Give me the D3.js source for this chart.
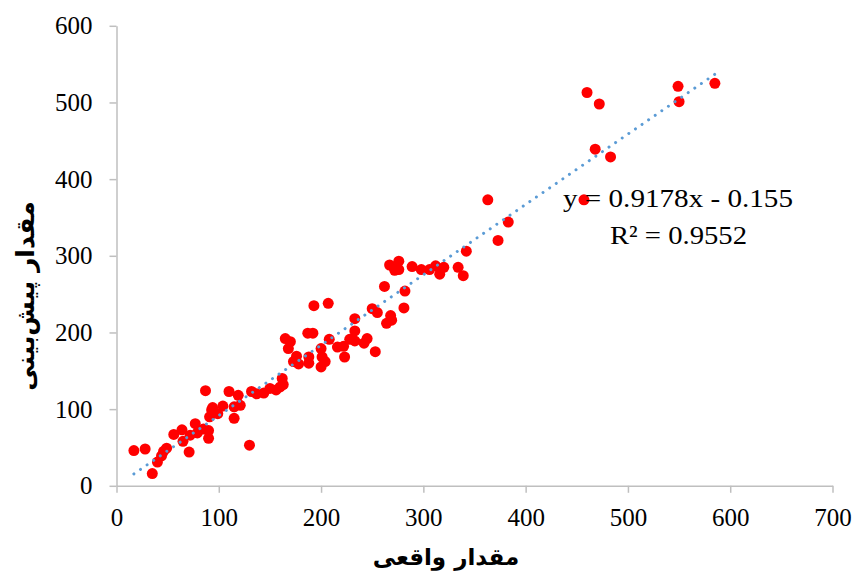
<!DOCTYPE html>
<html>
<head>
<meta charset="utf-8">
<script src="https://cdn.jsdelivr.net/npm/d3@7"></script>
<style>
	body { margin: 0; background: #fff; }
	svg { display: block; }
</style>
</head>
<body>
<div id="chart"></div>
<script>
// observed (actual) values
const actualValues = [
	585, 549, 550, 460, 472, 468, 483, 457, 363, 383,
	373, 342, 339, 334, 316, 320, 312, 306, 298, 289,
	276, 267, 272, 276, 282, 281, 262, 268, 269, 264,
	250, 255, 253, 245, 242, 233, 233, 233, 228, 223,
	222, 216, 208, 207, 193, 192, 187, 200, 201, 200,
	204, 188, 188, 178, 173, 176, 168, 170, 165, 162,
	163, 156, 150, 144, 137, 132, 130, 121, 119, 115,
	115, 110, 104, 99, 93, 94, 91, 87, 90, 90,
	85, 79, 77, 72, 71, 65, 64, 56, 49, 46,
	44, 40, 35, 28, 17, 160
];
// predicted values
const predictedValues = [
	525, 521, 501, 513, 498, 439, 429, 373, 373, 344,
	320, 306, 274, 285, 276, 285, 287, 282, 282, 286,
	293, 288, 281, 282, 254, 232, 260, 222, 216, 212,
	231, 226, 175, 192, 186, 218, 202, 189, 191, 168,
	182, 181, 191, 238, 235, 199, 199, 179, 168, 155,
	162, 168, 160, 159, 162, 169, 179, 188, 192, 140,
	132, 125, 127, 121, 120, 123, 53, 105, 118, 88,
	103, 123, 104, 94, 99, 102, 90, 124, 72, 62,
	74, 69, 81, 66, 44, 58, 73, 67, 49, 45,
	39, 31, 16, 48, 46, 129
];
const xTicks = [0, 100, 200, 300, 400, 500, 600, 700];
const yTicks = [0, 100, 200, 300, 400, 500, 600];
const slope = 0.9178;
const intercept = -0.155;
const equationLabel = "y = 0.9178x - 0.155";
const r2Label = "R² = 0.9552";
const xTitle = "مقدار واقعی";
const yTitle = "مقدار پیش‌بینی";

const W = 854;
const H = 575;
const axisColor = "#bfbfbf";
const tickFont = "'Liberation Serif', 'Times New Roman', serif";
const titleFont = "'DejaVu Sans', sans-serif";

const points = actualValues.map((v, i) => ({x: v, y: predictedValues[i]}));

/* eslint-disable indent */
const svg = d3.select("#chart")
	.append("svg")
		.attr("width", W)
		.attr("height", H);

const x = d3.scaleLinear()
	.domain([0, 700])
	.range([116.5, 832.5]);
const y = d3.scaleLinear()
	.domain([0, 600])
	.range([485.8, 25.8]);

// X axis
const gx = svg.append("g")
		.attr("transform", `translate(0,${y(0)})`)
		.call(d3.axisBottom(x).tickValues(xTicks).tickSize(7).tickSizeOuter(0).tickPadding(15));
// Y axis
const gy = svg.append("g")
		.attr("transform", `translate(${x(0)},0)`)
		.call(d3.axisLeft(y).tickValues(yTicks).tickSize(7).tickSizeOuter(0).tickPadding(17));

for (const g of [gx, gy]) {
	g.select(".domain").attr("stroke", axisColor).attr("stroke-width", 1.5);
	g.selectAll(".tick line").attr("stroke", axisColor).attr("stroke-width", 1.5);
	g.selectAll(".tick text")
		.attr("fill", "#000")
		.style("font-family", tickFont)
		.style("font-size", "25px");
}

// points
svg.append("g")
	.selectAll("circle")
	.data(points)
	.join("circle")
		.attr("cx", d => x(d.x))
		.attr("cy", d => y(d.y))
		.attr("r", 5.5)
		.attr("fill", "#ff0000");

// linear trendline over the data range
const xExtent = d3.extent(actualValues);
svg.append("line")
		.attr("x1", x(xExtent[0]))
		.attr("y1", y(slope * xExtent[0] + intercept))
		.attr("x2", x(xExtent[1]))
		.attr("y2", y(slope * xExtent[1] + intercept))
		.attr("stroke", "#5b9bd5")
		.attr("stroke-width", 3)
		.attr("stroke-linecap", "round")
		.attr("stroke-dasharray", "0.01 8");

// trendline label
svg.append("text")
		.attr("x", 563)
		.attr("y", 207)
		.attr("fill", "#000")
		.attr("textLength", 230)
		.attr("lengthAdjust", "spacingAndGlyphs")
		.style("font-family", tickFont)
		.style("font-size", "26px")
		.text(equationLabel);
svg.append("text")
		.attr("x", 610)
		.attr("y", 244)
		.attr("fill", "#000")
		.attr("textLength", 137)
		.attr("lengthAdjust", "spacingAndGlyphs")
		.style("font-family", tickFont)
		.style("font-size", "26px")
		.text(r2Label);

// axis titles
svg.append("text")
		.attr("x", 446)
		.attr("y", 565)
		.attr("text-anchor", "middle")
		.attr("direction", "rtl")
		.attr("fill", "#000")
		.style("font-family", titleFont)
		.style("font-weight", "bold")
		.style("font-size", "23px")
		.text(xTitle);
svg.append("text")
		.attr("transform", "translate(34,296) rotate(-90)")
		.attr("text-anchor", "middle")
		.attr("direction", "rtl")
		.attr("fill", "#000")
		.style("font-family", titleFont)
		.style("font-weight", "bold")
		.style("font-size", "25px")
		.text(yTitle);
/* eslint-enable */
</script>
</body>
</html>
